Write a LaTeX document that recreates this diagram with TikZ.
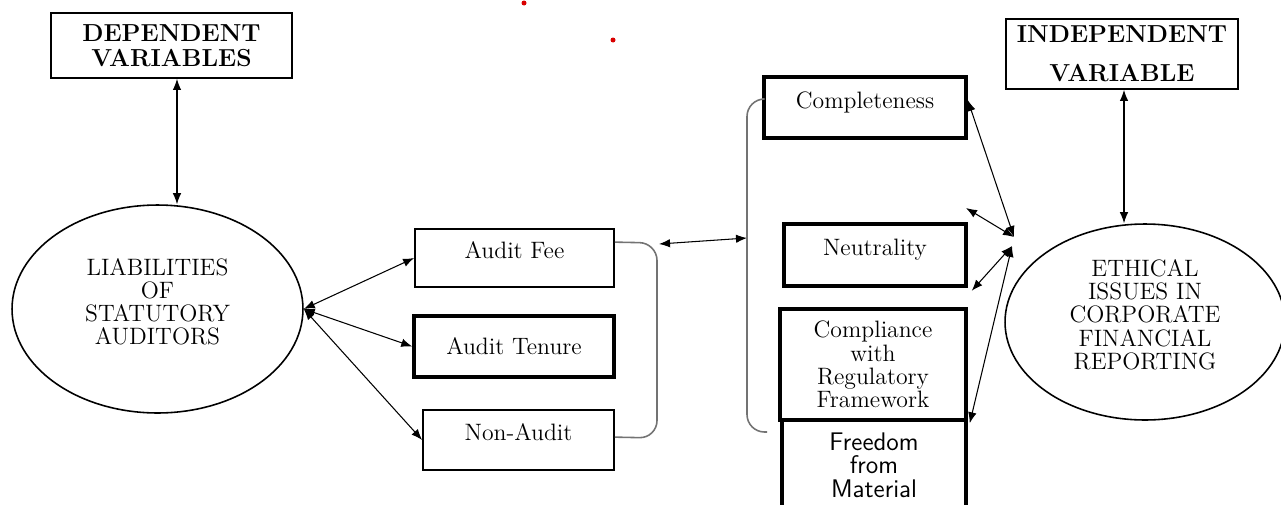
\documentclass[tikz,border=0pt]{standalone}
\usepackage{tikz}
\usetikzlibrary{positioning,arrows.meta,calc,shapes.geometric}

\begin{document}
\begin{tikzpicture}[x=0.02cm, y=-0.02cm, >={Latex[length=2.2mm,width=1.7mm]},
      font=\fontsize{13.5}{13.2}\selectfont,
      bx/.style={draw, line width=1pt, align=center, inner sep=2pt},
      tbx/.style={bx, line width=2pt},
      up/.style={text depth=0.3cm},
      hd/.style={bx, font=\fontsize{14}{14}\selectfont\bfseries},
      circ/.style={draw, ellipse, line width=0.9pt, align=center, inner sep=0pt, text depth=0.3cm},
      lnk/.style={<->, line width=0.6pt},
      brk/.style={draw=black!55, line width=0.9pt, rounded corners=0.35cm}]
      \useasboundingbox (0,0) rectangle (1281,504);
      \clip (0,0) rectangle (1281,504);
      % left side
      \node[hd, minimum width=4.82cm, minimum height=1.3cm] (dep) at (171.5,45.5) {DEPENDENT\\VARIABLES};
      \node[circ, minimum width=5.82cm, minimum height=4.16cm] (lsa) at (157.5,309) {LIABILITIES\\OF\\STATUTORY\\AUDITORS};
      \node[bx, up, minimum width=3.98cm, minimum height=1.16cm] (fee) at (514.5,258) {Audit Fee};
      \node[tbx, minimum width=4.0cm, minimum height=1.22cm] (ten) at (514,346.5) {Audit Tenure};
      \node[bx, up, minimum width=3.82cm, minimum height=1.2cm] (non) at (518.5,440) {Non-Audit};
      % right side
      \node[tbx, up, minimum width=4.04cm, minimum height=1.22cm] (comp) at (865,107.5) {Completeness};
      \node[tbx, up, minimum width=3.64cm, minimum height=1.24cm] (neu) at (875,255) {Neutrality};
      \node[tbx, minimum width=3.72cm, minimum height=2.22cm] (reg) at (873,364.5) {Compliance\\with\\Regulatory\\Framework};
      \node[tbx, minimum width=3.68cm, minimum height=1.8cm, font=\fontsize{14.5}{13.5}\selectfont\sffamily] (free) at (874,465) {Freedom\\from\\Material};
      \node[circ, minimum width=5.6cm, minimum height=3.92cm] (eth) at (1145,322) {ETHICAL\\ISSUES IN\\CORPORATE\\FINANCIAL\\REPORTING};
      \node[hd, minimum width=4.64cm, minimum height=1.4cm] (ind) at (1122,54) {INDEPENDENT\\[8pt]VARIABLE};
      % free ends
      \coordinate (m1) at (659,244); \coordinate (m2) at (747,238);
      \coordinate (rb) at (767,432); \coordinate (fr) at (966,208);
      \coordinate (h1) at (1014,237); \coordinate (h2) at (1012,246);
      % links
      \draw[lnk] ([xshift=0.11cm]dep.south) -- ([xshift=0.11cm]dep.south |- lsa.north);
      \draw[lnk] (lsa.east) -- (fee.west); \draw[lnk] (lsa.east) -- (ten.west); \draw[lnk] (lsa.east) -- (non.west);
      \draw[brk] ($(fee.north east)+(0,14)$) -- (657,243) -- (657,438) -- ($(non.north east)+(0,28)$);
      \draw[lnk] (m1) -- (m2);
      \draw[brk] ([yshift=0.17cm]comp.west) -- (747,99) -- (747,432) -- (rb);
      \draw[lnk] ([yshift=0.15cm]comp.east) -- (h1); \draw[lnk] (fr) -- (h1);
      \draw[lnk] ([shift={(0.08cm,-0.06cm)}]neu.south east) -- (h2);
      \draw[lnk] ([shift={(0.04cm,-0.1cm)}]free.north east) -- (h2);
      \draw[lnk] ([xshift=0.04cm]ind.south) -- ([xshift=0.04cm]ind.south |- eth.north);
      \fill[red!85!black] (524,3) circle (0.05cm) (613,40) circle (0.05cm);
    \end{tikzpicture}
\end{document}
